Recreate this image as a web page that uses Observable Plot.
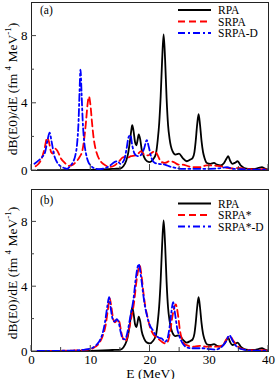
<!DOCTYPE html>
<html><head><meta charset="utf-8">
<script src="https://cdn.jsdelivr.net/npm/d3@7"></script>
<script src="https://cdn.jsdelivr.net/npm/@observablehq/plot@0.6"></script>
<style>
body{margin:0;background:#fff;}
#chart{position:relative;width:276px;height:379px;font-family:"Liberation Serif","Times New Roman",serif;}
#chart svg{position:absolute;left:0;overflow:visible;}
</style></head><body><div id="chart"></div>
<script>
// ---- data: [E (MeV), dB(E0)/dE] ----
const rpa = [[1,0.02],[4,0.02],[8,0.03],[11,0.05],[13,0.08],[14,0.1],[15,0.12],[15.5,0.25],[16,0.6],[16.3,1.0],[16.6,1.7],[16.85,2.4],[17,2.7],[17.2,2.4],[17.5,1.65],[17.7,1.5],[17.9,1.8],[18.1,2.15],[18.35,1.85],[18.6,1.25],[19,0.8],[19.5,0.55],[20,0.5],[20.5,0.65],[21,1.0],[21.3,1.8],[21.55,2.8],[21.8,4.4],[22.05,6.6],[22.3,8.1],[22.55,6.6],[22.8,4.3],[23.05,2.7],[23.3,1.9],[23.8,1.15],[24.3,0.95],[24.9,1.0],[25.5,0.75],[26.2,0.55],[26.8,0.65],[27.2,0.75],[27.5,1.1],[27.7,1.7],[27.95,2.7],[28.2,3.35],[28.45,2.7],[28.7,1.75],[28.95,1.1],[29.2,0.75],[29.6,0.45],[30.2,0.4],[30.8,0.45],[31.3,0.35],[31.9,0.3],[32.5,0.45],[32.9,0.7],[33.2,0.85],[33.5,0.6],[33.9,0.4],[34.3,0.45],[34.8,0.55],[35.3,0.3],[35.9,0.15],[36.6,0.1],[37.5,0.1],[38.3,0.15],[38.9,0.2],[39.4,0.12],[40,0.05]];

const srpa = [[0.7,0.25],[1.2,0.4],[1.7,0.7],[2.2,1.3],[2.65,1.95],[2.95,1.7],[3.3,1.1],[3.6,1.0],[4.0,1.3],[4.4,1.15],[5.0,0.7],[5.5,0.5],[6.3,0.28],[7.0,0.35],[7.6,0.55],[8.2,0.85],[8.6,1.2],[8.9,1.9],[9.2,2.9],[9.45,3.9],[9.7,4.4],[9.95,3.9],[10.2,2.9],[10.5,1.9],[10.8,1.3],[11.2,0.85],[11.9,0.45],[12.5,0.3],[13.3,0.22],[14.0,0.3],[14.8,0.55],[15.5,0.8],[16.1,0.75],[16.8,0.85],[17.5,0.9],[18.0,1.0],[18.5,1.15],[19.0,0.95],[19.7,0.9],[20.3,1.05],[20.8,1.15],[21.3,0.9],[21.8,0.55],[22.5,0.45],[23.3,0.55],[24.0,0.5],[24.8,0.35],[25.5,0.35],[26.5,0.25],[27.5,0.2],[28.5,0.2],[29.5,0.3],[30.5,0.3],[31.3,0.28],[32.0,0.25],[33.0,0.15],[34.0,0.12],[35.0,0.15],[36.0,0.1],[37.0,0.08],[38.0,0.06],[39.0,0.08],[40.0,0.05]];

const srpaD = [[0.5,0.4],[1.2,0.6],[1.8,0.8],[2.3,1.1],[2.7,1.8],[3.05,2.25],[3.4,1.7],[3.8,0.95],[4.3,0.5],[4.9,0.25],[5.5,0.15],[6.0,0.1],[6.5,0.25],[7.0,0.5],[7.4,0.9],[7.7,1.6],[7.95,3.0],[8.1,4.6],[8.27,6.0],[8.45,4.6],[8.65,2.9],[8.9,1.7],[9.2,1.0],[9.6,0.5],[10.0,0.3],[10.5,0.15],[11.5,0.08],[12.5,0.15],[13.3,0.3],[14.0,0.5],[14.5,0.55],[15.0,0.4],[15.6,0.6],[16.0,1.2],[16.4,2.0],[16.7,2.1],[17.0,1.5],[17.4,1.0],[17.9,0.85],[18.4,0.9],[19.0,1.3],[19.45,1.8],[19.8,1.4],[20.2,0.8],[20.8,0.45],[21.5,0.4],[22.5,0.35],[23.5,0.22],[24.5,0.15],[25.5,0.1],[27.0,0.1],[28.5,0.1],[30.0,0.1],[31.5,0.12],[33.0,0.2],[34.0,0.1],[35.5,0.08],[37,0.05],[38.5,0.05],[40,0.05]];

const srpaStar = [[1,0.03],[4,0.04],[7,0.06],[9,0.1],[10,0.15],[10.8,0.3],[11.4,0.5],[12.0,0.95],[12.5,1.6],[12.9,2.6],[13.2,3.3],[13.5,2.7],[13.8,2.0],[14.1,1.8],[14.55,2.0],[14.85,1.8],[15.15,1.2],[15.5,0.75],[15.9,0.65],[16.3,1.1],[16.8,2.0],[17.3,3.0],[17.7,4.3],[18.0,5.0],[18.25,5.3],[18.6,4.6],[18.9,3.6],[19.2,2.8],[19.6,2.1],[20.0,1.5],[20.5,1.1],[21.0,0.9],[21.5,0.75],[22.0,0.6],[22.6,0.5],[23.0,0.6],[23.4,1.2],[23.8,2.2],[24.35,2.9],[24.75,2.2],[25.05,1.3],[25.4,0.75],[25.9,0.45],[26.5,0.35],[27.5,0.3],[28.5,0.35],[29.5,0.3],[30.5,0.3],[31.5,0.3],[32.3,0.4],[32.9,0.75],[33.5,0.95],[34.0,0.7],[34.5,0.45],[35.0,0.25],[36,0.12],[37,0.08],[38,0.06],[39,0.08],[40,0.05]];

const srpaStarD = [[1,0.03],[4,0.04],[7,0.06],[9,0.12],[10,0.18],[10.8,0.35],[11.4,0.6],[11.9,1.0],[12.4,1.8],[12.8,2.8],[13.1,3.35],[13.4,2.6],[13.7,2.0],[14.0,1.85],[14.4,2.0],[14.75,1.75],[15.05,1.2],[15.4,0.8],[15.8,0.75],[16.2,1.2],[16.7,2.2],[17.2,3.2],[17.6,4.5],[17.9,5.2],[18.1,5.4],[18.45,4.7],[18.8,3.7],[19.1,2.9],[19.5,2.2],[20.0,1.6],[20.5,1.3],[21.0,1.0],[21.5,0.85],[22.0,0.8],[22.5,0.6],[22.9,0.75],[23.3,1.5],[23.6,2.4],[23.9,3.05],[24.2,2.4],[24.6,1.4],[25.0,0.9],[25.5,0.5],[26,0.3],[27,0.2],[28,0.2],[29,0.2],[30,0.15],[31,0.12],[32,0.25],[32.8,0.6],[33.4,1.0],[33.9,0.7],[34.4,0.4],[35,0.2],[36,0.1],[37,0.06],[38,0.05],[39,0.06],[40,0.05]];

const xTicks = [0, 10, 20, 30, 40];
const xMinor = [5, 15, 25, 35];
const yTicks = [0, 4, 8];
const yMinor = [2, 6];
const legendA = ["RPA", "SRPA", "SRPA-D"];
const legendB = ["RPA", "SRPA*", "SRPA*-D"];

const styles = [
  {stroke: "#000000", dash: null},
  {stroke: "#ff0000", dash: "7,4"},
  {stroke: "#0000ff", dash: "7,3,2,3"}
];

const FONT = "Liberation Serif, serif";
const chart = d3.select("#chart");

function panel({series, names, tag, top, height, mt, mb, showX, legendTop, tagDy, xTitle}) {
  const marks = [
    Plot.axisY({ticks: yTicks, tickSize: 0, tickPadding: 4, label: null, fontSize: 13}),
    ...series.map((s, i) => Plot.line(s, {
      x: d => d[0], y: d => d[1], stroke: styles[i].stroke, strokeWidth: 1.8,
      strokeDasharray: styles[i].dash, curve: "monotone-x", clip: true
    })),
    Plot.frame({stroke: "#222", strokeWidth: 1})
  ];
  if (showX) marks.unshift(Plot.axisX({ticks: xTicks, tickSize: 0, tickPadding: 3, label: null, fontSize: 13}));
  const p = Plot.plot({
    width: 276, height, marginTop: mt, marginBottom: mb, marginLeft: 31, marginRight: 8,
    style: {fontFamily: FONT, fontSize: "13px", background: "transparent", color: "#000"},
    x: {domain: [0, 40], axis: showX ? undefined : null},
    y: {domain: [0, 10]},
    marks
  });
  p.style.top = top + "px";
  chart.node().appendChild(p);
  const sx = p.scale("x"), sy = p.scale("y");
  const svg = d3.select(p);
  const g = svg.append("g").attr("stroke", "#444").attr("stroke-width", 1);
  const y0 = sy.apply(0), x0 = sx.apply(0);
  xTicks.forEach(t => g.append("line").attr("x1", sx.apply(t)).attr("x2", sx.apply(t)).attr("y1", y0).attr("y2", y0 - 6));
  xMinor.forEach(t => g.append("line").attr("x1", sx.apply(t)).attr("x2", sx.apply(t)).attr("y1", y0).attr("y2", y0 - 4));
  yTicks.forEach(t => g.append("line").attr("x1", x0).attr("x2", x0 + 5).attr("y1", sy.apply(t)).attr("y2", sy.apply(t)));
  yMinor.forEach(t => g.append("line").attr("x1", x0).attr("x2", x0 + 3).attr("y1", sy.apply(t)).attr("y2", sy.apply(t)));

  // panel tag
  svg.append("text").attr("x", x0 + 9).attr("y", sy.apply(10) + tagDy)
    .attr("text-anchor", "start").attr("font-size", 11.5).attr("font-family", FONT).text(tag);

  // y label
  const cy = (sy.apply(0) + sy.apply(10)) / 2 + 3;
  const t = svg.append("text").attr("transform", `translate(17,${cy}) rotate(-90)`)
    .attr("text-anchor", "middle").attr("font-size", 13.5).attr("font-family", FONT);
  t.append("tspan").text("dB(E0)/dE (fm ");
  t.append("tspan").attr("font-size", 9).attr("dy", -6).text("4");
  t.append("tspan").attr("dy", 6).text(" MeV");
  t.append("tspan").attr("font-size", 9).attr("dy", -6).text("-1");
  t.append("tspan").attr("dy", 6).text(")");

  // legend
  const lg = svg.append("g");
  names.forEach((n, i) => {
    const yy = legendTop + i * 11.5;
    lg.append("line").attr("x1", 178).attr("x2", 211).attr("y1", yy).attr("y2", yy)
      .attr("stroke", styles[i].stroke).attr("stroke-width", 1.8)
      .attr("stroke-dasharray", styles[i].dash);
    lg.append("text").attr("x", 218).attr("y", yy + 4).attr("text-anchor", "start")
      .attr("font-size", 11.5).attr("font-family", FONT).text(n);
  });

  if (xTitle) {
    svg.append("text").attr("x", (sx.apply(0) + sx.apply(40)) / 2 + 1).attr("y", height - 1.5)
      .attr("text-anchor", "middle").attr("font-size", 13.5).attr("font-family", FONT).text(xTitle);
  }
  return p;
}

panel({series: [rpa, srpa, srpaD], names: legendA, tag: "(a)", top: 0, height: 180, mt: 2, mb: 10, showX: false, legendTop: 10, tagDy: 12});
panel({series: [rpa, srpaStar, srpaStarD], names: legendB, tag: "(b)", top: 180, height: 199, mt: 9, mb: 28, showX: true, legendTop: 23.5, tagDy: 15, xTitle: "E (MeV)"});
</script>
</body></html>
